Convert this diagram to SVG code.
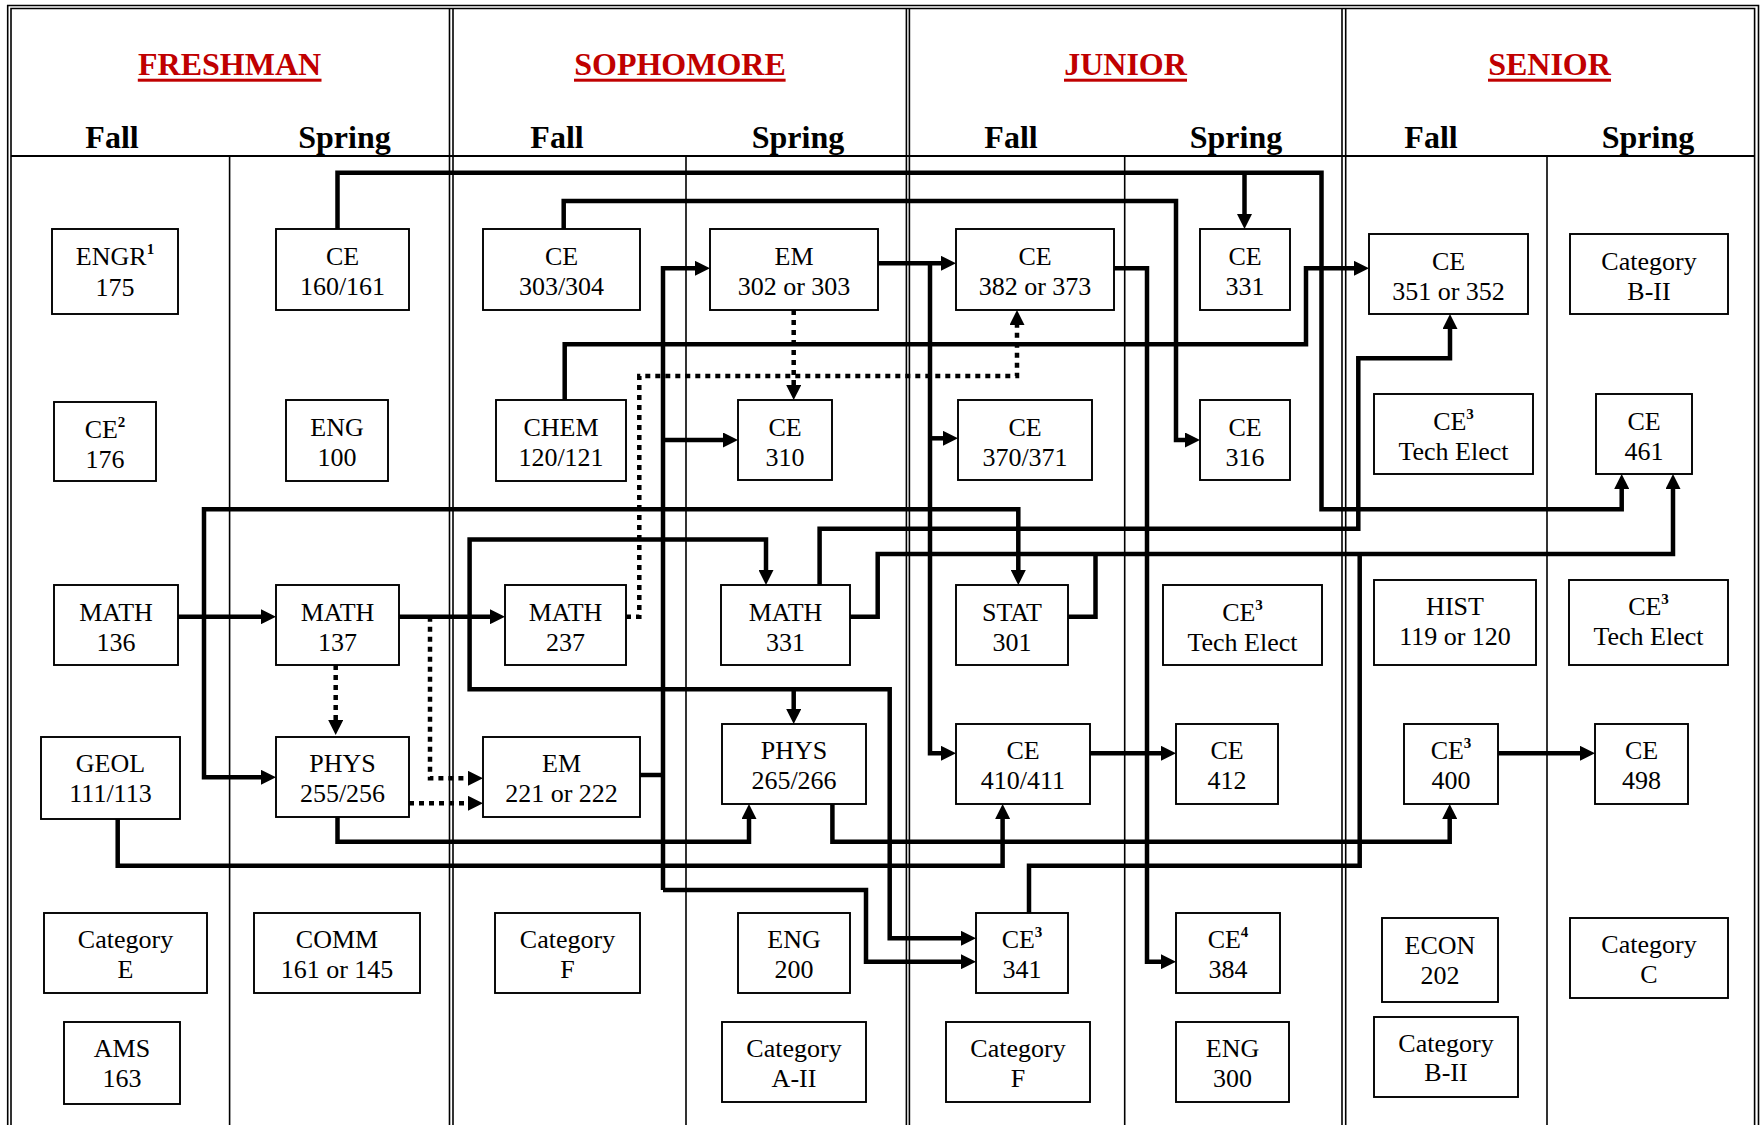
<svg xmlns="http://www.w3.org/2000/svg" width="1762" height="1125" viewBox="0 0 1762 1125">
<style>
.bg{fill:#fff}
.g{stroke:#000;stroke-width:1.6;fill:none}
.g2{stroke:#000;stroke-width:2.2;fill:none}
.title{font-family:"Liberation Serif","Times New Roman",serif;font-size:32px;font-weight:bold;fill:#C00000;text-anchor:middle}
.ul{fill:#C00000}
.hdr{font-family:"Liberation Serif","Times New Roman",serif;font-size:32px;font-weight:bold;fill:#000;text-anchor:middle}
.box{fill:#fff;stroke:#000;stroke-width:1.9}
.t{font-family:"Liberation Serif","Times New Roman",serif;font-size:26px;fill:#000;text-anchor:middle}
.sup{font-size:15px;font-weight:bold}
.c{fill:none;stroke:#000;stroke-width:4.5;stroke-linejoin:miter}
.d{stroke-dasharray:5 5}
.a{marker-end:url(#ah)}
</style>
<defs>
<marker id="ah" markerUnits="userSpaceOnUse" markerWidth="15" markerHeight="15" viewBox="0 0 15 15" refX="4" refY="7.5" orient="auto">
<path d="M0,0 L15,7.5 L0,15 Z" fill="#000" stroke="none"/>
</marker>
</defs>
<rect class="bg" x="0" y="0" width="1762" height="1125"/>
<g id="grid">
<path class="g" d="M7.7,1125 V5.5 H1758.5 V1125"/>
<path class="g" d="M11,1125 V8.5 H1754.6 V1125"/>
<path class="g" d="M449.5,8.5 V1125 M453,8.5 V1125"/>
<path class="g" d="M906.4,8.5 V1125 M909.4,8.5 V1125"/>
<path class="g" d="M1342,8.5 V1125 M1345.7,8.5 V1125"/>
<path class="g2" d="M11,156 H1754.6"/>
<path class="g" d="M229.6,156 V1125 M686,156 V1125 M1124.7,156 V1125 M1547,156 V1125"/>
</g>
<g id="headers">
<text class="title" x="229.6" y="75">FRESHMAN</text>
<rect class="ul" x="137.8" y="78.7" width="183.7" height="3"/>
<text class="title" x="680" y="75">SOPHOMORE</text>
<rect class="ul" x="574" y="78.7" width="211.6" height="3"/>
<text class="title" x="1125.5" y="75">JUNIOR</text>
<rect class="ul" x="1064" y="78.7" width="123" height="3"/>
<text class="title" x="1549.5" y="75">SENIOR</text>
<rect class="ul" x="1488" y="78.7" width="123" height="3"/>
<text class="hdr" x="112" y="148">Fall</text>
<text class="hdr" x="344.5" y="148">Spring</text>
<text class="hdr" x="557" y="148">Fall</text>
<text class="hdr" x="798" y="148">Spring</text>
<text class="hdr" x="1011" y="148">Fall</text>
<text class="hdr" x="1236" y="148">Spring</text>
<text class="hdr" x="1431" y="148">Fall</text>
<text class="hdr" x="1648" y="148">Spring</text>
</g>
<g id="connectors">
<path class="c a" d="M337.5,229 V172.7 H1321.5 V509.3 H1621.7 V485"/>
<path class="c a" d="M1244.5,172.7 V218"/>
<path class="c a" d="M563.7,229 V201 H1176 V440 H1189"/>
<path class="c a" d="M878,263.3 H945"/>
<path class="c a" d="M930,263.3 V753.3 H945"/>
<path class="c a" d="M930,438.3 H947"/>
<path class="c" d="M640,775 H663"/>
<path class="c a" d="M663,890 V268.3 H699"/>
<path class="c a" d="M663,440 H727"/>
<path class="c a" d="M663,890 H866 V961.7 H965"/>
<path class="c a" d="M564.7,400 V344.3 H1306 V268.3 H1358"/>
<path class="c a" d="M1114,268.3 H1147 V961.7 H1165"/>
<path class="c a" d="M178,616.7 H265"/>
<path class="c a" d="M399,616.7 H494"/>
<path class="c a" d="M204,616.7 V509.3 H1018.3 V574"/>
<path class="c a" d="M204,616.7 V777.3 H265"/>
<path class="c a" d="M469.6,616.7 V539.4 H766 V574"/>
<path class="c a" d="M469.6,616.7 V689.3 H889.7 V938.3 H965"/>
<path class="c a" d="M793.7,689.3 V713"/>
<path class="c a" d="M819.6,585 V528.7 H1358.3 V358.3 H1450 V325"/>
<path class="c a" d="M849.6,616.7 H877.7 V554 H1673 V485"/>
<path class="c" d="M1068.3,616.7 H1095.5 V554"/>
<path class="c" d="M1029,913 V865.7 H1359.7 V554"/>
<path class="c a" d="M1090,753.3 H1165"/>
<path class="c a" d="M1497.5,753.3 H1584"/>
<path class="c a" d="M337.5,817 V841.7 H749 V815"/>
<path class="c a" d="M832.4,804 V841.7 H1449.7 V815"/>
<path class="c a" d="M117.7,819 V865.7 H1002.6 V815"/>
<path class="c d a" d="M793.7,310 V389"/>
<path class="c d a" d="M626,616.7 H639.3 V376 H1017 V321"/>
<path class="c d a" d="M335.7,665 V724"/>
<path class="c d a" d="M430,616.7 V778.3 H472"/>
<path class="c d a" d="M409,803.3 H472"/>
</g>
<g id="n_engr175"><rect class="box" x="52" y="229" width="126" height="85"/><text class="t" x="115" y="265">ENGR<tspan class="sup" dy="-11">1</tspan></text><text class="t" x="115" y="296">175</text></g>
<g id="n_ce176"><rect class="box" x="54" y="402" width="102" height="79"/><text class="t" x="105" y="437.5">CE<tspan class="sup" dy="-11">2</tspan></text><text class="t" x="105" y="467.5">176</text></g>
<g id="n_math136"><rect class="box" x="54" y="585" width="124" height="80"/><text class="t" x="116" y="620.5">MATH</text><text class="t" x="116" y="650.5">136</text></g>
<g id="n_geol"><rect class="box" x="41" y="737" width="139" height="82"/><text class="t" x="110.5" y="772">GEOL</text><text class="t" x="110.5" y="802">111/113</text></g>
<g id="n_cate"><rect class="box" x="44" y="913" width="163" height="80"/><text class="t" x="125.5" y="948">Category</text><text class="t" x="125.5" y="978">E</text></g>
<g id="n_ams"><rect class="box" x="64" y="1022" width="116" height="82"/><text class="t" x="122" y="1057">AMS</text><text class="t" x="122" y="1087">163</text></g>
<g id="n_ce160"><rect class="box" x="276" y="229" width="133" height="81"/><text class="t" x="342.5" y="265">CE</text><text class="t" x="342.5" y="295">160/161</text></g>
<g id="n_eng100"><rect class="box" x="286" y="400" width="102" height="81"/><text class="t" x="337" y="435.5">ENG</text><text class="t" x="337" y="465.5">100</text></g>
<g id="n_math137"><rect class="box" x="276" y="585" width="123" height="80"/><text class="t" x="337.5" y="620.5">MATH</text><text class="t" x="337.5" y="650.5">137</text></g>
<g id="n_phys255"><rect class="box" x="276" y="737" width="133" height="80"/><text class="t" x="342.5" y="772">PHYS</text><text class="t" x="342.5" y="802">255/256</text></g>
<g id="n_comm"><rect class="box" x="254" y="913" width="166" height="80"/><text class="t" x="337" y="948">COMM</text><text class="t" x="337" y="978">161 or 145</text></g>
<g id="n_ce303"><rect class="box" x="483" y="229" width="157" height="81"/><text class="t" x="561.5" y="265">CE</text><text class="t" x="561.5" y="295">303/304</text></g>
<g id="n_chem"><rect class="box" x="496" y="400" width="130" height="81"/><text class="t" x="561" y="435.5">CHEM</text><text class="t" x="561" y="465.5">120/121</text></g>
<g id="n_math237"><rect class="box" x="505" y="585" width="121" height="80"/><text class="t" x="565.5" y="620.5">MATH</text><text class="t" x="565.5" y="650.5">237</text></g>
<g id="n_em221"><rect class="box" x="483" y="737" width="157" height="80"/><text class="t" x="561.5" y="772">EM</text><text class="t" x="561.5" y="802">221 or 222</text></g>
<g id="n_catf1"><rect class="box" x="495" y="913" width="145" height="80"/><text class="t" x="567.5" y="948">Category</text><text class="t" x="567.5" y="978">F</text></g>
<g id="n_em302"><rect class="box" x="710" y="229" width="168" height="81"/><text class="t" x="794" y="265">EM</text><text class="t" x="794" y="295">302 or 303</text></g>
<g id="n_ce310"><rect class="box" x="738" y="400" width="94" height="80"/><text class="t" x="785" y="435.5">CE</text><text class="t" x="785" y="465.5">310</text></g>
<g id="n_math331"><rect class="box" x="721" y="585" width="129" height="80"/><text class="t" x="785.5" y="620.5">MATH</text><text class="t" x="785.5" y="650.5">331</text></g>
<g id="n_phys265"><rect class="box" x="722" y="724" width="144" height="80"/><text class="t" x="794" y="759">PHYS</text><text class="t" x="794" y="789">265/266</text></g>
<g id="n_eng200"><rect class="box" x="738" y="913" width="112" height="80"/><text class="t" x="794" y="948">ENG</text><text class="t" x="794" y="978">200</text></g>
<g id="n_cata2"><rect class="box" x="722" y="1022" width="144" height="80"/><text class="t" x="794" y="1057">Category</text><text class="t" x="794" y="1087">A-II</text></g>
<g id="n_ce382"><rect class="box" x="956" y="229" width="158" height="81"/><text class="t" x="1035" y="265">CE</text><text class="t" x="1035" y="295">382 or 373</text></g>
<g id="n_ce370"><rect class="box" x="958" y="400" width="134" height="80"/><text class="t" x="1025" y="435.5">CE</text><text class="t" x="1025" y="465.5">370/371</text></g>
<g id="n_stat301"><rect class="box" x="956" y="585" width="112" height="80"/><text class="t" x="1012" y="620.5">STAT</text><text class="t" x="1012" y="650.5">301</text></g>
<g id="n_ce410"><rect class="box" x="956" y="724" width="134" height="80"/><text class="t" x="1023" y="759">CE</text><text class="t" x="1023" y="789">410/411</text></g>
<g id="n_ce341"><rect class="box" x="976" y="913" width="92" height="80"/><text class="t" x="1022" y="948">CE<tspan class="sup" dy="-11">3</tspan></text><text class="t" x="1022" y="978">341</text></g>
<g id="n_catf2"><rect class="box" x="946" y="1022" width="144" height="80"/><text class="t" x="1018" y="1057">Category</text><text class="t" x="1018" y="1087">F</text></g>
<g id="n_ce331"><rect class="box" x="1200" y="229" width="90" height="81"/><text class="t" x="1245" y="265">CE</text><text class="t" x="1245" y="295">331</text></g>
<g id="n_ce316"><rect class="box" x="1200" y="400" width="90" height="80"/><text class="t" x="1245" y="435.5">CE</text><text class="t" x="1245" y="465.5">316</text></g>
<g id="n_te1"><rect class="box" x="1163" y="585" width="159" height="80"/><text class="t" x="1242.5" y="620.5">CE<tspan class="sup" dy="-11">3</tspan></text><text class="t" x="1242.5" y="650.5">Tech Elect</text></g>
<g id="n_ce412"><rect class="box" x="1176" y="724" width="102" height="80"/><text class="t" x="1227" y="759">CE</text><text class="t" x="1227" y="789">412</text></g>
<g id="n_ce384"><rect class="box" x="1176" y="913" width="104" height="80"/><text class="t" x="1228" y="948">CE<tspan class="sup" dy="-11">4</tspan></text><text class="t" x="1228" y="978">384</text></g>
<g id="n_eng300"><rect class="box" x="1176" y="1022" width="113" height="80"/><text class="t" x="1232.5" y="1057">ENG</text><text class="t" x="1232.5" y="1087">300</text></g>
<g id="n_ce351"><rect class="box" x="1369" y="234" width="159" height="80"/><text class="t" x="1448.5" y="269.5">CE</text><text class="t" x="1448.5" y="299.5">351 or 352</text></g>
<g id="n_te2"><rect class="box" x="1374" y="394" width="159" height="80"/><text class="t" x="1453.5" y="429.5">CE<tspan class="sup" dy="-11">3</tspan></text><text class="t" x="1453.5" y="459.5">Tech Elect</text></g>
<g id="n_hist"><rect class="box" x="1374" y="580" width="162" height="85"/><text class="t" x="1455" y="615">HIST</text><text class="t" x="1455" y="645">119 or 120</text></g>
<g id="n_ce400"><rect class="box" x="1404" y="724" width="94" height="80"/><text class="t" x="1451" y="759">CE<tspan class="sup" dy="-11">3</tspan></text><text class="t" x="1451" y="789">400</text></g>
<g id="n_econ"><rect class="box" x="1382" y="918" width="116" height="84"/><text class="t" x="1440" y="953.5">ECON</text><text class="t" x="1440" y="983.5">202</text></g>
<g id="n_catb2b"><rect class="box" x="1374" y="1017" width="144" height="80"/><text class="t" x="1446" y="1052">Category</text><text class="t" x="1446" y="1081">B-II</text></g>
<g id="n_catb2a"><rect class="box" x="1570" y="234" width="158" height="80"/><text class="t" x="1649" y="269.5">Category</text><text class="t" x="1649" y="299.5">B-II</text></g>
<g id="n_ce461"><rect class="box" x="1596" y="394" width="96" height="80"/><text class="t" x="1644" y="429.5">CE</text><text class="t" x="1644" y="459.5">461</text></g>
<g id="n_te3"><rect class="box" x="1569" y="580" width="159" height="85"/><text class="t" x="1648.5" y="615">CE<tspan class="sup" dy="-11">3</tspan></text><text class="t" x="1648.5" y="645">Tech Elect</text></g>
<g id="n_ce498"><rect class="box" x="1595" y="724" width="93" height="80"/><text class="t" x="1641.5" y="759">CE</text><text class="t" x="1641.5" y="789">498</text></g>
<g id="n_catc"><rect class="box" x="1570" y="918" width="158" height="80"/><text class="t" x="1649" y="953">Category</text><text class="t" x="1649" y="983">C</text></g>
</svg>
